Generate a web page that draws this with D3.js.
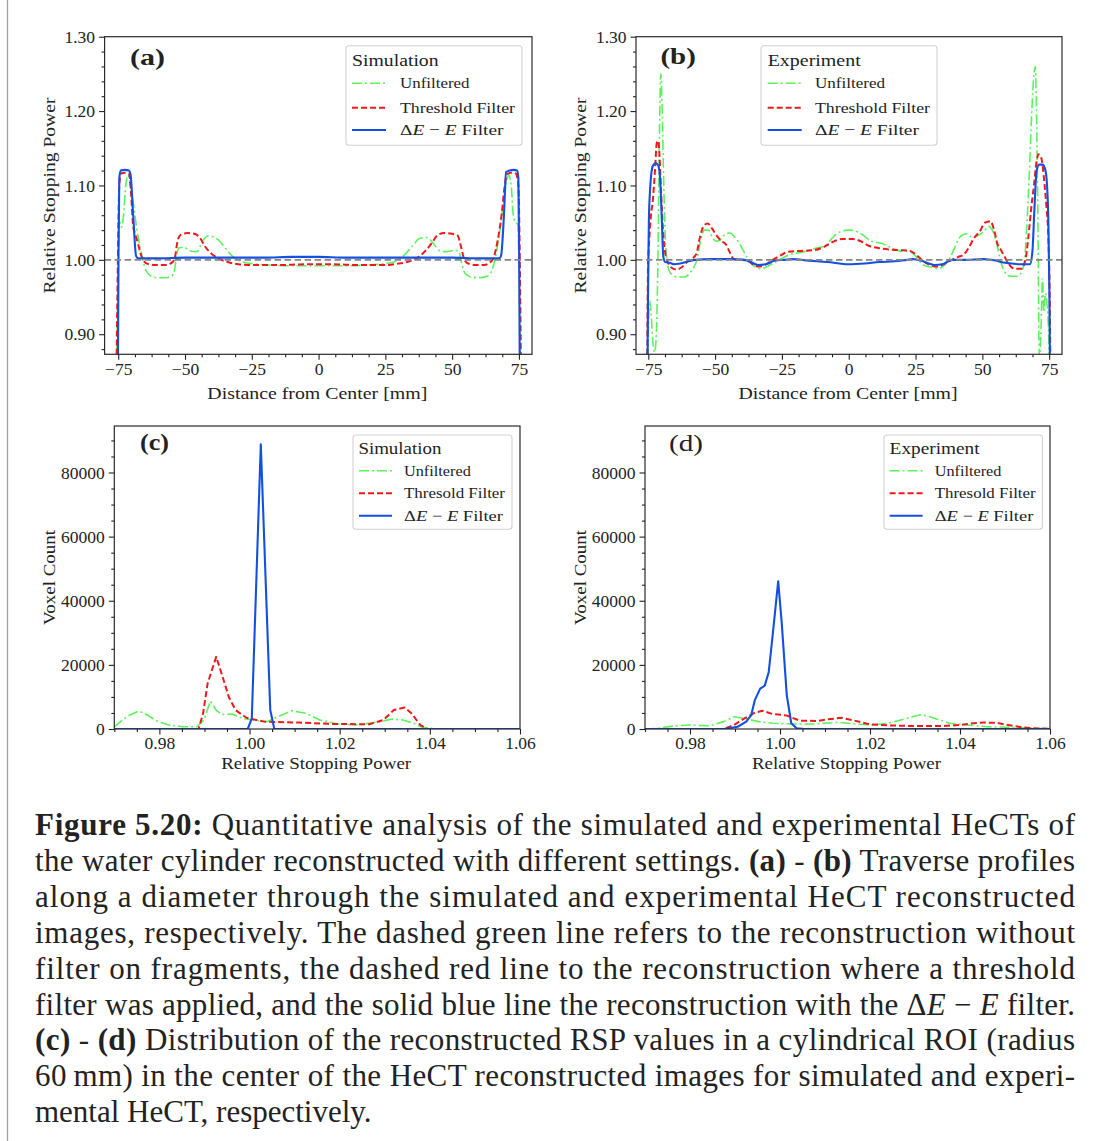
<!DOCTYPE html>
<html><head><meta charset="utf-8">
<script src="https://cdn.jsdelivr.net/npm/d3@7"></script>
<style>
body{margin:0;background:#fff;}
svg{display:block;}
text{font-family:"Liberation Serif","Times New Roman",serif;fill:#222;}
</style></head><body>
<svg id="fig" width="1094" height="1141"></svg>
<script>
// ---------------- DATA ----------------
// Panel (a): simulated profiles [distance mm, RSP]
const simUnfiltered = [[-75.8,0.80],[-75.2,0.95],[-74.6,1.052],[-73.8,1.044],[-73.0,1.06],[-72.2,1.10],[-71.3,1.114],[-70.4,1.10],[-69.3,1.075],[-68.2,1.045],[-67.0,1.02],[-65.8,1.0],[-64.5,0.985],[-62.5,0.978],[-60,0.976],[-57,0.976],[-55,0.978],[-54,0.985],[-53.2,1.005],[-52.3,1.016],[-50.5,1.017],[-48,1.012],[-45.5,1.011],[-43.5,1.025],[-41.5,1.032],[-39.5,1.031],[-37,1.025],[-34.5,1.014],[-32,1.004],[-29,0.998],[-25,0.995],[-18,0.993],[-10,0.992],[0,0.992],[10,0.992],[18,0.993],[25,0.995],[29,0.998],[32,1.006],[35,1.018],[38,1.029],[40.5,1.03],[43,1.022],[45.5,1.012],[48,1.011],[51,1.013],[52.6,1.01],[53.6,0.995],[54.8,0.982],[57,0.977],[60,0.976],[63,0.978],[64.8,0.985],[66,1.0],[67.5,1.03],[69,1.07],[70.2,1.1],[71.2,1.114],[72.1,1.1],[72.9,1.06],[73.8,1.05],[74.6,1.048],[75.2,0.95],[75.8,0.80]];
const simThreshold = [[-75.8,0.80],[-75.2,0.98],[-74.6,1.10],[-74.0,1.116],[-72.5,1.117],[-71.0,1.116],[-70.2,1.09],[-69.4,1.045],[-68.5,1.033],[-67.6,1.022],[-66.6,1.008],[-65.4,0.998],[-63.5,0.994],[-61,0.993],[-57.5,0.993],[-55,0.996],[-53.8,1.003],[-52.8,1.025],[-51.5,1.034],[-49,1.036],[-46.5,1.035],[-44.5,1.03],[-42.5,1.018],[-40,1.008],[-37.5,1.002],[-34,0.997],[-30,0.994],[-25,0.993],[-15,0.993],[-5,0.994],[5,0.994],[15,0.993],[25,0.993],[30,0.995],[34,0.998],[37.5,1.004],[40,1.012],[42.5,1.023],[44.5,1.033],[47,1.036],[50,1.035],[52,1.033],[53.5,1.015],[54.6,1.0],[56,0.995],[59,0.993],[62,0.993],[64,0.996],[65.5,1.003],[67,1.025],[68.5,1.06],[69.7,1.1],[70.5,1.115],[72,1.117],[73.8,1.116],[74.8,1.10],[75.4,0.98],[75.9,0.80]];
const simDeltaE = [[-75.2,0.80],[-74.9,1.0],[-74.6,1.11],[-74.0,1.12],[-72.5,1.121],[-71.0,1.12],[-70.4,1.115],[-69.4,1.06],[-68.3,1.005],[-67.5,1.002],[-60,1.002],[-50,1.003],[-40,1.003],[-30,1.003],[-20,1.003],[-10,1.004],[0,1.004],[10,1.003],[20,1.003],[30,1.003],[40,1.003],[50,1.003],[60,1.002],[67.5,1.002],[68.3,1.005],[69.4,1.06],[70.2,1.118],[71.5,1.12],[73,1.121],[74.3,1.12],[74.8,1.11],[75.1,1.0],[75.4,0.80]];

// Panel (b): experimental profiles [distance mm, RSP]
const expUnfiltered = [[-75.6,0.80],[-75.0,0.90],[-74.5,0.945],[-74.0,0.93],[-73.3,0.89],[-72.6,0.876],[-72.0,0.90],[-71.4,1.00],[-70.9,1.15],[-70.3,1.25],[-69.8,1.20],[-69.2,1.10],[-68.5,1.02],[-67.6,0.99],[-66.2,0.98],[-64,0.977],[-61.5,0.977],[-59.5,0.982],[-58,0.99],[-56.8,1.0],[-55.5,1.025],[-54,1.04],[-52.5,1.04],[-51,1.03],[-49.7,1.025],[-48,1.027],[-46,1.035],[-44.5,1.036],[-42.5,1.03],[-40.6,1.02],[-38,1.003],[-35.5,0.992],[-33,0.988],[-31,0.99],[-28.5,0.995],[-26,1.0],[-22,1.007],[-18,1.01],[-13,1.015],[-8.5,1.02],[-6,1.03],[-3,1.038],[0,1.04],[3,1.038],[5,1.034],[8.5,1.025],[12.5,1.022],[16,1.016],[19,1.012],[23,1.011],[25.5,1.003],[28,0.993],[31,0.99],[33.5,0.988],[35.5,0.992],[37.5,1.0],[39.5,1.015],[41.5,1.03],[44,1.035],[46.5,1.03],[48.5,1.033],[50.5,1.038],[52.4,1.045],[54,1.038],[55.5,1.02],[56.8,0.998],[58.2,0.985],[60.5,0.978],[63,0.978],[64.8,0.985],[65.8,1.0],[66.7,1.05],[67.5,1.11],[68.5,1.2],[69.3,1.25],[69.8,1.26],[70.3,1.19],[70.8,1.05],[71.3,0.87],[71.9,0.90],[72.5,0.975],[73.0,0.93],[73.6,0.955],[74.2,0.94],[74.8,0.90],[75.3,0.80]];
const expThreshold = [[-75.5,0.80],[-75.1,0.99],[-74.6,1.03],[-74.0,1.06],[-73.3,1.08],[-72.5,1.12],[-71.8,1.158],[-71.3,1.16],[-70.8,1.14],[-70.2,1.09],[-69.5,1.04],[-68.7,1.01],[-67.8,0.998],[-66.5,0.99],[-64.5,0.987],[-62.5,0.99],[-60.5,0.997],[-58.8,1.001],[-57,1.008],[-55.7,1.03],[-54.2,1.046],[-52.8,1.049],[-51.3,1.043],[-49.5,1.033],[-47.5,1.025],[-45.8,1.02],[-44.5,1.01],[-43,1.001],[-40,1.0],[-37.5,0.998],[-35.5,0.993],[-33.5,0.991],[-31,0.994],[-28.5,1.0],[-25.5,1.006],[-22.5,1.011],[-18,1.012],[-13,1.013],[-9.5,1.017],[-6,1.024],[-2.5,1.028],[1.5,1.028],[4.5,1.025],[7.5,1.019],[11,1.016],[15,1.014],[19,1.013],[23,1.012],[25.5,1.006],[28,0.998],[30.5,0.993],[33,0.991],[35.5,0.994],[38.5,1.0],[41,1.004],[43,1.007],[45,1.017],[47,1.03],[49,1.038],[51,1.05],[53,1.052],[54.4,1.04],[55.6,1.022],[57,1.013],[58.5,1.003],[60,0.994],[62,0.988],[64.5,0.988],[66,0.998],[67.2,1.03],[68.3,1.07],[69.3,1.1],[70.2,1.13],[71.0,1.142],[71.8,1.14],[72.6,1.125],[73.3,1.1],[74.0,1.07],[74.7,1.03],[75.2,0.95],[75.6,0.80]];
const expDeltaE = [[-75.4,0.80],[-75.1,0.95],[-74.8,1.05],[-74.4,1.09],[-73.9,1.115],[-73.2,1.127],[-72.2,1.13],[-71.3,1.127],[-70.6,1.11],[-70.0,1.06],[-69.4,1.005],[-68.7,0.997],[-67,0.996],[-65.3,0.994],[-63,0.995],[-60,0.998],[-57.5,1.0],[-52,1.001],[-45,1.001],[-39,1.0],[-36,0.996],[-34,0.993],[-31,0.994],[-27.6,0.999],[-24,1.0],[-21,1.001],[-15,0.999],[-8,0.997],[0,0.994],[6,0.995],[11.4,0.997],[17,0.998],[21.8,1.0],[24,1.001],[27,0.999],[30,0.995],[32.2,0.993],[35,0.994],[38.7,1.0],[44,1.0],[50.5,1.001],[55,0.999],[58.5,0.996],[60.9,0.995],[64,0.994],[67.8,0.994],[68.7,1.01],[69.5,1.07],[70.3,1.12],[71.3,1.128],[72.5,1.128],[73.5,1.122],[74.2,1.10],[74.7,1.05],[75.1,0.95],[75.4,0.80]];

// Panel (c): simulated RSP histograms [RSP, voxel count]
const simHistUnfiltered = [[0.970,700],[0.9727,3800],[0.9754,5600],[0.9774,4300],[0.9797,2300],[0.9821,1250],[0.9852,700],[0.9883,700],[0.9899,2800],[0.9913,8700],[0.9926,5900],[0.9938,4500],[0.9961,4700],[0.9985,3300],[1.0008,2800],[1.0039,2300],[1.0063,3800],[1.0094,5700],[1.0125,4900],[1.0156,2800],[1.0196,1550],[1.0242,1250],[1.0289,2300],[1.0317,3100],[1.034,2800],[1.0364,1800],[1.0383,500],[1.0414,50],[1.05,0],[1.06,0]];
const simHistThreshold = [[0.970,0],[0.9887,0],[0.9897,4900],[0.9907,14200],[0.9926,22500],[0.9938,17300],[0.9954,10000],[0.9969,5900],[0.9993,3500],[1.0032,2300],[1.011,2000],[1.0188,1550],[1.0266,1500],[1.0297,2800],[1.032,5900],[1.0344,6700],[1.0359,4900],[1.0379,1200],[1.0395,0],[1.06,0]];
const simHistDeltaE = [[0.970,0],[0.9996,0],[1.0005,3300],[1.0025,88800],[1.0046,5900],[1.0055,0],[1.06,0]];

// Panel (d): experimental RSP histograms [RSP, voxel count]
const expHistUnfiltered = [[0.970,0],[0.9728,200],[0.9767,1000],[0.9798,1250],[0.9844,1000],[0.9875,2300],[0.9898,3800],[0.9921,3300],[0.9952,2300],[0.9983,1800],[1.0029,1550],[1.0075,1550],[1.0129,2100],[1.0168,1550],[1.0207,1250],[1.0241,1800],[1.0276,3100],[1.0314,4550],[1.0345,3300],[1.0376,1800],[1.0415,1250],[1.0461,700],[1.0515,500],[1.0569,200],[1.06,100]];
const expHistThreshold = [[0.970,0],[0.9875,0],[0.9898,1250],[0.9921,3300],[0.9944,5100],[0.9961,5700],[0.9983,4700],[1.0014,4250],[1.0044,2600],[1.0083,2500],[1.0106,3000],[1.0137,3500],[1.016,2800],[1.0199,1450],[1.0237,1150],[1.0299,900],[1.0361,900],[1.0399,1250],[1.043,1800],[1.0453,2000],[1.048,1950],[1.0507,1250],[1.0538,500],[1.0569,200],[1.06,100]];
const expHistDeltaE = [[0.970,0],[0.9875,0],[0.9906,700],[0.9925,2300],[0.9936,4300],[0.9944,9000],[0.9956,12600],[0.9966,13500],[0.9975,17800],[0.9984,29700],[0.9996,46100],[1.0004,32800],[1.0015,10600],[1.0025,1800],[1.0037,200],[1.0055,0],[1.06,0]];

// Ticks
const profileXTicks = [-75, -50, -25, 0, 25, 50, 75];
const profileYTicks = [0.90, 1.00, 1.10, 1.20, 1.30];
const histXTicks = [0.98, 1.00, 1.02, 1.04, 1.06];
const histYTicks = [0, 20000, 40000, 60000, 80000];

// Legend labels
const profileLegendLabels = ["Unfiltered", "Threshold Filter", "ΔE − E Filter"];
const histLegendLabels = ["Unfiltered", "Thresold Filter", "ΔE − E Filter"];

// Caption
const captionLines = [
  [["Figure 5.20:","b"],[" Quantitative analysis of the simulated and experimental HeCTs of"]],
  [["the water cylinder reconstructed with different settings. "],["(a)","b"],[" - "],["(b)","b"],[" Traverse profiles"]],
  [["along a diameter through the simulated and experimental HeCT reconstructed"]],
  [["images, respectively. The dashed green line refers to the reconstruction without"]],
  [["filter on fragments, the dashed red line to the reconstruction where a threshold"]],
  [["filter was applied, and the solid blue line the reconstruction with the Δ"],["E","i"],[" − "],["E","i"],[" filter."]],
  [["(c)","b"],[" - "],["(d)","b"],[" Distribution of the reconstructed RSP values in a cylindrical ROI (radius"]],
  [["60\u2009mm) in the center of the HeCT reconstructed images for simulated and experi-"]],
  [["mental HeCT, respectively."]]
];

// ---------------- DRAWING ----------------
const svg = d3.select("#fig");
svg.append("rect").attr("width",1094).attr("height",1141).attr("fill","#fff");
svg.append("line").attr("x1",7.5).attr("x2",7.5).attr("y1",0).attr("y2",1141)
  .attr("stroke","#a0a0a0").attr("stroke-width",1.3);

const COL = {unf:"#5cf25c", thr:"#ee1a1a", de:"#1450e0"};
const STYLE = {
  unf:{color:COL.unf, width:1.6, dash:"10,3,2,3"},
  thr:{color:COL.thr, width:2.0, dash:"6,3"},
  de:{color:COL.de, width:2.1, dash:null}
};
const defs = svg.append("defs");

function legendText(g, label, x, y, size, len) {
  const t = g.append("text").attr("x", x).attr("y", y).attr("font-size", size)
    .attr("textLength", len).attr("lengthAdjust","spacingAndGlyphs");
  if (label.indexOf("ΔE") === 0) {
    t.append("tspan").text("Δ");
    t.append("tspan").attr("font-style","italic").text("E");
    t.append("tspan").text(" − ");
    t.append("tspan").attr("font-style","italic").text("E");
    t.append("tspan").text(label.slice(6));
  } else t.text(label);
}

function drawPanel(p) {
  const x = d3.scaleLinear().domain(p.xDomain).range([p.left, p.right]);
  const y = d3.scaleLinear().domain(p.yDomain).range([p.bottom, p.top]);
  const g = svg.append("g");
  defs.append("clipPath").attr("id", "clip-" + p.id).append("rect")
    .attr("x", p.left).attr("y", p.top).attr("width", p.right - p.left).attr("height", p.bottom - p.top);
  const plot = g.append("g").attr("clip-path", `url(#clip-${p.id})`);
  const line = d3.line().x(d => x(d[0])).y(d => y(d[1])).curve(p.curve);
  p.series.forEach(s => {
    const st = STYLE[s.key];
    plot.append("path").datum(s.data).attr("d", line).attr("fill","none")
      .attr("stroke", st.color).attr("stroke-width", st.width)
      .attr("stroke-dasharray", st.dash).attr("stroke-linejoin","round");
  });
  if (p.refLine != null) {
    plot.append("line").attr("x1", p.left).attr("x2", p.right)
      .attr("y1", y(p.refLine)).attr("y2", y(p.refLine))
      .attr("stroke","#858585").attr("stroke-width",1.7).attr("stroke-dasharray","6.5,3.5");
  }
  // spines
  g.append("rect").attr("x", p.left).attr("y", p.top).attr("width", p.right - p.left)
    .attr("height", p.bottom - p.top).attr("fill","none").attr("stroke","#2a2a2a").attr("stroke-width",1.2);

  const styleAxis = a => {
    a.select(".domain").remove();
    a.attr("font-family", null).attr("font-size", null);
    a.selectAll("line").attr("stroke","#222").attr("stroke-width",1.1);
    a.selectAll("text").attr("font-size", 17.5).attr("fill","#222");
  };
  // minor ticks
  const xMinor = d3.range(p.xMinor[0], p.xMinor[1] + 1e-9, p.xMinor[2]).filter(v => !p.xTicks.some(t => Math.abs(t - v) < 1e-9));
  const yMinor = d3.range(p.yMinor[0], p.yMinor[1] + 1e-9, p.yMinor[2]).filter(v => !p.yTicks.some(t => Math.abs(t - v) < 1e-9));
  g.append("g").attr("transform", `translate(0,${p.bottom})`)
    .call(d3.axisBottom(x).tickValues(xMinor).tickFormat("").tickSize(3).tickSizeOuter(0)).call(styleAxis);
  g.append("g").attr("transform", `translate(${p.left},0)`)
    .call(d3.axisLeft(y).tickValues(yMinor).tickFormat("").tickSize(3).tickSizeOuter(0)).call(styleAxis);
  g.append("g").attr("transform", `translate(0,${p.bottom})`)
    .call(d3.axisBottom(x).tickValues(p.xTicks).tickFormat(p.xFmt).tickSize(5.5).tickPadding(2.5).tickSizeOuter(0)).call(styleAxis);
  g.append("g").attr("transform", `translate(${p.left},0)`)
    .call(d3.axisLeft(y).tickValues(p.yTicks).tickFormat(p.yFmt).tickSize(5.5).tickPadding(4).tickSizeOuter(0)).call(styleAxis);

  // axis labels
  g.append("text").attr("x", (p.left + p.right) / 2 - 1).attr("y", p.xLabelY).attr("text-anchor","middle")
    .attr("font-size", 17.5).attr("textLength", p.xLabelLen).attr("lengthAdjust","spacingAndGlyphs").text(p.xLabel);
  g.append("text").attr("transform", `translate(${p.yLabelX},${(p.top + p.bottom) / 2}) rotate(-90)`)
    .attr("text-anchor","middle").attr("dy","0.35em").attr("font-size", 17.5)
    .attr("textLength", p.yLabelLen).attr("lengthAdjust","spacingAndGlyphs").text(p.yLabel);

  // panel label
  g.append("text").attr("x", p.tag.x).attr("y", p.tag.y).attr("font-size", 24)
    .attr("font-weight", p.tag.bold ? "bold" : "normal").attr("textLength", p.tag.len)
    .attr("lengthAdjust","spacingAndGlyphs").text(p.tag.text);

  // legend
  const L = p.legend;
  const lg = g.append("g");
  lg.append("rect").attr("x", L.x).attr("y", L.y).attr("width", L.w).attr("height", L.h)
    .attr("rx", 3).attr("fill","#fff").attr("fill-opacity",0.85).attr("stroke","#d2d2d2").attr("stroke-width",1.1);
  legendText(lg, L.title, L.titleX, L.titleY, L.titleSize, L.titleLen);
  ["unf","thr","de"].forEach((k, i) => {
    const st = STYLE[k];
    lg.append("line").attr("x1", L.lineX).attr("x2", L.lineX + L.lineW)
      .attr("y1", L.rows[i]).attr("y2", L.rows[i]).attr("stroke", st.color)
      .attr("stroke-width", st.width).attr("stroke-dasharray", st.dash);
    legendText(lg, L.labels[i], L.textX, L.rows[i] + L.textDy, L.textSize, L.lens[i]);
  });
}

const fmt2 = d3.format(".2f");
const fmtInt = d3.format("d");
const fmtX = d3.format("d");

drawPanel({
  id:"a", left:104.6, right:532, top:36.7, bottom:354.3,
  xDomain:[-80.1, 79.9], yDomain:[0.873, 1.30],
  xTicks:profileXTicks, yTicks:profileYTicks, xFmt:fmtX, yFmt:fmt2,
  xMinor:[-75, 75, 6.25], yMinor:[0.88, 1.30, 0.02],
  curve:d3.curveMonotoneX, refLine:1.0,
  series:[{key:"unf", data:simUnfiltered},{key:"thr", data:simThreshold},{key:"de", data:simDeltaE}],
  xLabel:"Distance from Center [mm]", xLabelY:399, xLabelLen:220,
  yLabel:"Relative Stopping Power", yLabelX:49, yLabelLen:196,
  tag:{text:"(a)", x:130, y:64.5, bold:true, len:35},
  legend:{x:346, y:45.7, w:176, h:99.6, title:"Simulation", titleX:352, titleY:65.7, titleSize:17.5, titleLen:86.6,
    lineX:352, lineW:34, rows:[83.3,107.7,130], textX:400, textDy:5, textSize:15.5,
    labels:profileLegendLabels, lens:[69.5,115,103.5]}
});
drawPanel({
  id:"b", left:636, right:1062, top:36.7, bottom:354.3,
  xDomain:[-79.6, 79.8], yDomain:[0.873, 1.30],
  xTicks:profileXTicks, yTicks:profileYTicks, xFmt:fmtX, yFmt:fmt2,
  xMinor:[-75, 75, 6.25], yMinor:[0.88, 1.30, 0.02],
  curve:d3.curveMonotoneX, refLine:1.0,
  series:[{key:"unf", data:expUnfiltered},{key:"thr", data:expThreshold},{key:"de", data:expDeltaE}],
  xLabel:"Distance from Center [mm]", xLabelY:399, xLabelLen:219,
  yLabel:"Relative Stopping Power", yLabelX:580, yLabelLen:196,
  tag:{text:"(b)", x:660.4, y:64, bold:true, len:35.4},
  legend:{x:761, y:45.7, w:176, h:99.6, title:"Experiment", titleX:767.7, titleY:65.7, titleSize:17.5, titleLen:93,
    lineX:767.7, lineW:34, rows:[83.3,107.7,130], textX:815, textDy:5, textSize:15.5,
    labels:profileLegendLabels, lens:[70,115,104]}
});
drawPanel({
  id:"c", left:114.3, right:520, top:426, bottom:729,
  xDomain:[0.97, 1.06], yDomain:[0, 94500],
  xTicks:histXTicks, yTicks:histYTicks, xFmt:fmt2, yFmt:fmtInt,
  xMinor:[0.97, 1.06, 0.005], yMinor:[0, 90000, 5000],
  curve:d3.curveLinear, refLine:null,
  series:[{key:"unf", data:simHistUnfiltered},{key:"thr", data:simHistThreshold},{key:"de", data:simHistDeltaE}],
  xLabel:"Relative Stopping Power", xLabelY:769, xLabelLen:190,
  yLabel:"Voxel Count", yLabelX:48.5, yLabelLen:95,
  tag:{text:"(c)", x:140, y:450, bold:true, len:29},
  legend:{x:353, y:435, w:159, h:94.3, title:"Simulation", titleX:358.4, titleY:454, titleSize:16.5, titleLen:83,
    lineX:359, lineW:33, rows:[470.7,493.3,515.7], textX:404, textDy:5, textSize:15,
    labels:histLegendLabels, lens:[66.8,101,99]}
});
drawPanel({
  id:"d", left:645, right:1050, top:426, bottom:729,
  xDomain:[0.97, 1.06], yDomain:[0, 94500],
  xTicks:histXTicks, yTicks:histYTicks, xFmt:fmt2, yFmt:fmtInt,
  xMinor:[0.97, 1.06, 0.005], yMinor:[0, 90000, 5000],
  curve:d3.curveLinear, refLine:null,
  series:[{key:"unf", data:expHistUnfiltered},{key:"thr", data:expHistThreshold},{key:"de", data:expHistDeltaE}],
  xLabel:"Relative Stopping Power", xLabelY:769, xLabelLen:189,
  yLabel:"Voxel Count", yLabelX:579.5, yLabelLen:95,
  tag:{text:"(d)", x:669, y:451, bold:false, len:34},
  legend:{x:884, y:435, w:158.4, h:94.3, title:"Experiment", titleX:889.6, titleY:454, titleSize:16.5, titleLen:90,
    lineX:889.6, lineW:33, rows:[470.7,493.3,515.7], textX:934.7, textDy:5, textSize:15,
    labels:histLegendLabels, lens:[66.7,101,98.6]}
});

// Caption
const cap = svg.append("g");
captionLines.forEach((segs, i) => {
  const t = cap.append("text").attr("x", 35).attr("y", 835 + i * 35.9)
    .attr("font-size", 31).attr("fill","#1a1a1a");
  if (i < captionLines.length - 1) t.attr("textLength", 1040).attr("lengthAdjust","spacing");
  segs.forEach(s => {
    const ts = t.append("tspan").text(s[0]);
    if (s[1] === "b") ts.attr("font-weight","bold");
    if (s[1] === "i") ts.attr("font-style","italic");
  });
});
</script>
</body></html>
